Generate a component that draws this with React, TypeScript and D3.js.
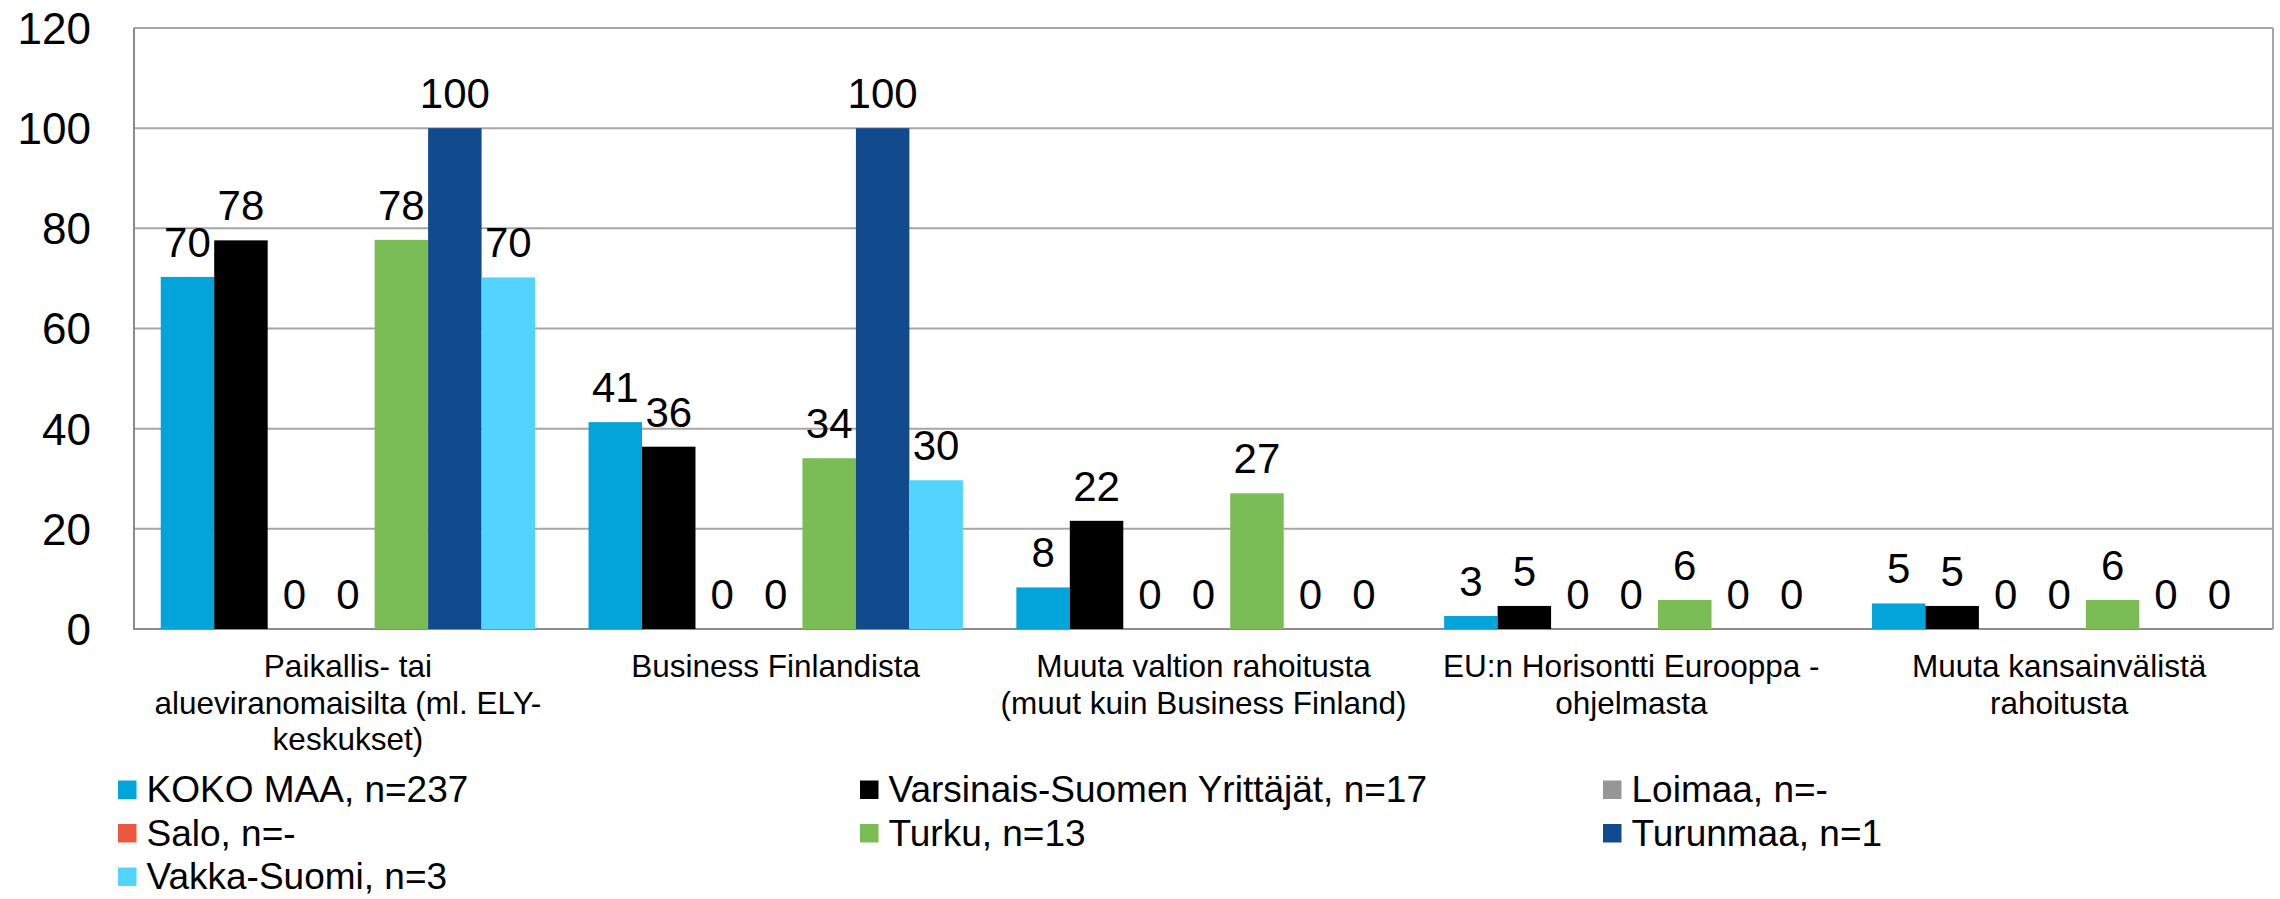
import React from "react";
import * as d3 from "d3";

// categories (already wrapped the way the reference wraps them)
const categories = [
  "Paikallis- tai alueviranomaisilta (ml. ELY-keskukset)",
  "Business Finlandista",
  "Muuta valtion rahoitusta (muut kuin Business Finland)",
  "EU:n Horisontti Eurooppa -ohjelmasta",
  "Muuta kansainvälistä rahoitusta",
];
const categoryLines = [
  ["Paikallis- tai", "alueviranomaisilta (ml. ELY-", "keskukset)"],
  ["Business Finlandista"],
  ["Muuta valtion rahoitusta", "(muut kuin Business Finland)"],
  ["EU:n Horisontti Eurooppa -", "ohjelmasta"],
  ["Muuta kansainvälistä", "rahoitusta"],
];

const seriesNames = [
  "KOKO MAA, n=237",
  "Varsinais-Suomen Yrittäjät, n=17",
  "Loimaa, n=-",
  "Salo, n=-",
  "Turku, n=13",
  "Turunmaa, n=1",
  "Vakka-Suomi, n=3",
];
const seriesColors = ["#03a4da", "#000000", "#969696", "#ea583f", "#7abd55", "#124a8e", "#52d4ff"];

const kokoMaa = [70.3, 41.3, 8.3, 2.6, 5.1];
const varsinaisSuomi = [77.6, 36.4, 21.6, 4.6, 4.6];
const loimaa = [0, 0, 0, 0, 0];
const salo = [0, 0, 0, 0, 0];
const turku = [77.7, 34.1, 27.1, 5.8, 5.8];
const turunmaa = [100, 100, 0, 0, 0];
const vakkaSuomi = [70.2, 29.7, 0, 0, 0];
const seriesValues = [kokoMaa, varsinaisSuomi, loimaa, salo, turku, turunmaa, vakkaSuomi];

const yTicks = [0, 20, 40, 60, 80, 100, 120];

const W = 2280,
  H = 899;
const FONT = "'Liberation Sans', Arial, sans-serif";

const App: React.FC = () => {
  const margin = { left: 134, right: 2273, top: 28, bottom: 629 };

  const x0 = d3.scaleBand<string>().domain(categories).range([margin.left, margin.right]);
  const x1 = d3
    .scaleBand<string>()
    .domain(seriesNames)
    .range([0, x0.bandwidth()])
    .paddingInner(0)
    .paddingOuter(0.5);
  const y = d3.scaleLinear().domain([0, 120]).range([margin.bottom, margin.top]);
  const fmt = d3.format(".0f");

  const legendCols = [118, 860, 1603];
  const legendRows = [802, 845.5, 889];

  return (
    <svg
      width={W}
      height={H}
      style={{ position: "absolute", left: 0, top: 0, background: "#fff" }}
      fontFamily={FONT}
    >
      {/* grid */}
      {yTicks.map((t) => (
        <line
          key={"g" + t}
          x1={margin.left}
          x2={margin.right}
          y1={y(t)}
          y2={y(t)}
          stroke={t === 0 ? "#8c8c8c" : "#a6a6a6"}
          strokeWidth={2}
        />
      ))}
      <line x1={margin.left} x2={margin.left} y1={margin.top} y2={margin.bottom + 1} stroke="#8c8c8c" strokeWidth={2} />
      <line x1={margin.right} x2={margin.right} y1={margin.top} y2={margin.bottom} stroke="#a6a6a6" strokeWidth={2} />

      {/* y tick labels */}
      {yTicks.map((t) => (
        <text key={"t" + t} x={91} y={y(t)} dy="0.36em" textAnchor="end" fontSize={44} fill="#000">
          {t}
        </text>
      ))}

      {/* bars */}
      {categories.map((c, ci) => (
        <g key={c} transform={`translate(${x0(c)},0)`}>
          {seriesNames.map((s, si) => {
            const v = seriesValues[si][ci];
            return (
              <rect
                key={s}
                x={x1(s)}
                y={y(v)}
                width={x1.bandwidth()}
                height={y(0) - y(v)}
                fill={seriesColors[si]}
              />
            );
          })}
          {seriesNames.map((s, si) => {
            const v = seriesValues[si][ci];
            return (
              <text
                key={"l" + s}
                x={(x1(s) ?? 0) + x1.bandwidth() / 2}
                y={y(v) - 20}
                textAnchor="middle"
                fontSize={42}
                fill="#000"
              >
                {fmt(v)}
              </text>
            );
          })}
        </g>
      ))}

      {/* category labels */}
      {categories.map((c, ci) => (
        <text
          key={"c" + c}
          x={(x0(c) ?? 0) + x0.bandwidth() / 2}
          y={677}
          textAnchor="middle"
          fontSize={31.5}
          fill="#000"
        >
          {categoryLines[ci].map((ln, li) => (
            <tspan key={li} x={(x0(c) ?? 0) + x0.bandwidth() / 2} dy={li === 0 ? 0 : 36.5}>
              {ln}
            </tspan>
          ))}
        </text>
      ))}

      {/* legend */}
      {seriesNames.map((s, si) => {
        const lx = legendCols[si % 3];
        const ly = legendRows[Math.floor(si / 3)];
        return (
          <g key={"lg" + s}>
            <rect x={lx} y={ly - 21.5} width={18.5} height={18.5} fill={seriesColors[si]} />
            <text x={lx + 28.5} y={ly} fontSize={37} fill="#000">
              {s}
            </text>
          </g>
        );
      })}
    </svg>
  );
};

export default App;
